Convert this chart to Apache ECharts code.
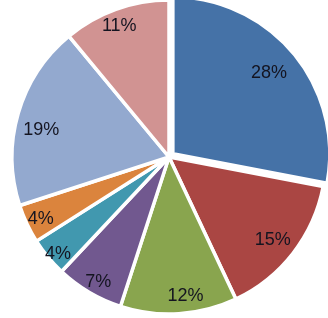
<!DOCTYPE html>
<html><head><meta charset="utf-8">
<script src="https://cdn.jsdelivr.net/npm/echarts@6/dist/echarts.min.js"></script>
<style>html,body{margin:0;padding:0;background:#fff}#c{width:328px;height:318px}</style>
</head><body><div id="c"></div>
<script>
var categories = ['A','B','C','D','E','F','G','H'];
var values = [28, 15, 12, 7, 4, 4, 19, 11];
var colors = ['#4572A7','#AA4643','#89A54E','#71588F','#4198AF','#DB843D','#93A9CF','#D19392'];
// small label nudges (style only), to mimic the spreadsheet's label placement
var labelNudge = [[-4,2],[-3,0],[8,4],[-2,9],[-7,11],[-6,5],[2,11],[-4,-4]];

var chart = echarts.init(document.getElementById('c'), null, {renderer:'canvas'});
var data = categories.map(function(n,i){
  return {name:n, value:values[i], selected: i===0, itemStyle:{color:colors[i]}};
});
var labelData = categories.map(function(n,i){
  return {name:n, value:values[i], label:{offset:labelNudge[i]}};
});
chart.setOption({
  animation:false,
  series:[{
    type:'pie', center:[169,157], radius:[0,157], startAngle:90, clockwise:true,
    selectedMode:'single', selectedOffset:5, silent:true,
    itemStyle:{borderColor:'#fff', borderWidth:3.5},
    label:{show:false}, labelLine:{show:false},
    emphasis:{disabled:true},
    data:data
  },{
    type:'pie', center:[169,157], radius:[106,158], startAngle:90, clockwise:true,
    silent:true, emphasis:{disabled:true},
    itemStyle:{color:'rgba(0,0,0,0)', borderWidth:0},
    label:{show:true, position:'inside', formatter:'{c}%', color:'#141420',
      fontFamily:'Liberation Sans, Arial, sans-serif', fontSize:18},
    labelLine:{show:false},
    data:labelData
  }]
});
</script></body></html>
